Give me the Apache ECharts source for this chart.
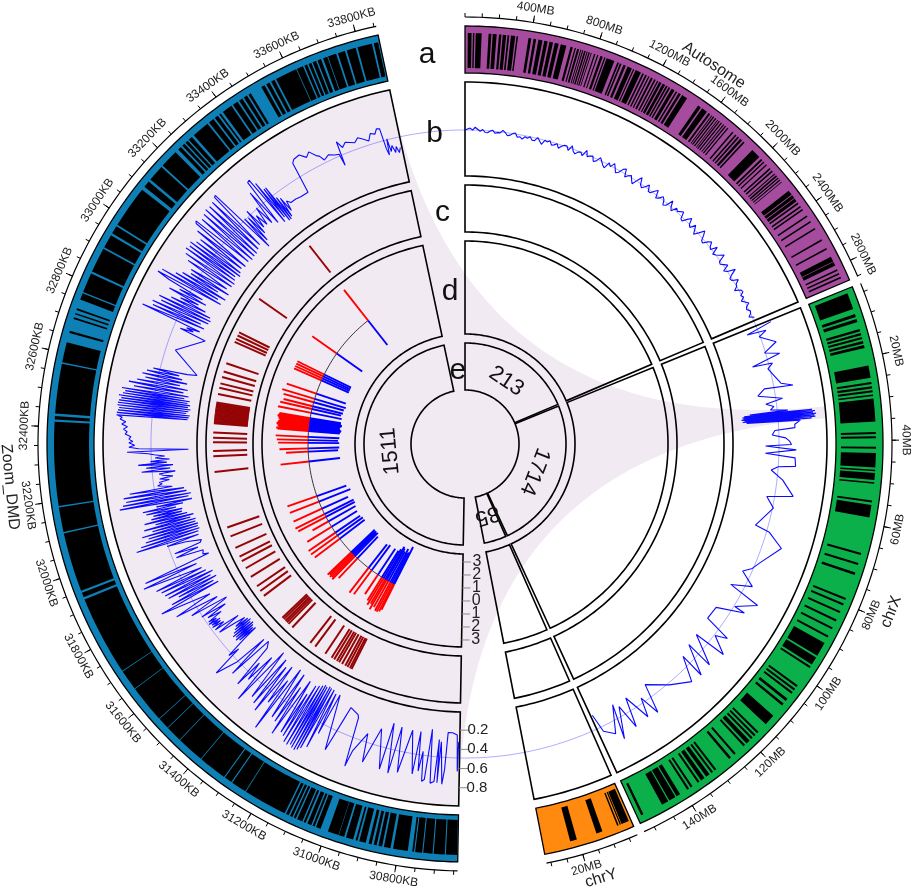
<!DOCTYPE html>
<html>
<head>
<meta charset="utf-8">
<style>html,body{margin:0;background:#fff}#main{width:913px;height:890px}</style>
<script src="https://cdn.jsdelivr.net/npm/echarts@6/dist/echarts.min.js"></script>
</head>
<body>
<div id="main"></div>
<script>
// black bands of the outer track, [start, end]
var autosomeBands = [[17,40],[48,57],[65,101],[143,160],[168,192],[206,221],[229,250],[258,269],[279,305],[313,322],
  [386,403],[417,433],[447,472],[483,504],[515,537],[548,572],[585,620],[646,660],[672,680],[688,700],[708,714],[720,726],
  [732,742],[748,754],[760,768],[775,780],[795,803],[815,822],[835,850],[860,868],[875,925],[945,955],[962,972],[985,1000],
  [1012,1040],[1048,1056],[1065,1100],[1110,1120],[1130,1140],[1150,1158],[1168,1180],[1190,1200],[1210,1218],[1225,1240],
  [1248,1265],[1272,1282],[1290,1300],[1310,1330],[1340,1350],[1360,1375],[1385,1420],[1500,1520],[1530,1565],[1578,1590],
  [1600,1606],[1612,1620],[1628,1636],[1645,1650],[1656,1664],[1672,1680],[1690,1696],[1704,1712],[1722,1730],[1760,1770],
  [1785,1795],[1805,1815],[1825,1840],[1850,1860],[1925,1985],[2000,2012],[2022,2030],[2045,2052],[2075,2085],[2095,2105],
  [2120,2127],[2135,2145],[2152,2160],[2168,2175],[2185,2190],[2255,2285],[2290,2310],[2315,2335],[2345,2355],[2370,2380],
  [2392,2402],[2440,2450],[2480,2490],[2530,2540],[2610,2620],[2670,2680],[2730,2762],[2766,2790],[2815,2825],[2840,2850],[2865,2875]];
var chrXBands = [[4,8],[9.3,10],[10.5,11.3],[13,13.6],[14,14.6],[15,15.5],[16,16.6],[17,17.7],[22,25],[26,26.5],[27,27.6],[28,28.5],[29,29.4],
  [30,35.5],[38,38.5],[39,39.5],[41.5,42],[43,46.5],[47,47.4],[47.8,49.5],[50,50.4],[54.4,54.9],[55.5,58.5],[67.2,67.7],[69.7,70.2],[72.1,72.7],
  [78.6,79.1],[80,80.5],[82,82.5],[84.2,84.7],[86.3,86.8],[88.5,89],[90.5,94],[94.5,96.5],[97,97.5],[102.5,103],[103.5,104],[104.5,105],
  [106.5,107.2],[108,108.6],[111.8,114.5],[117,117.5],[118,118.5],[119,119.5],[120,121],[121.5,122],[124.5,125],[126,126.6],[130.5,131],
  [131.5,132],[132.5,133.5],[134,135],[135.5,136],[137.5,138],[138.5,139],[141,142],[142.3,144],[144.3,146],[151,151.6]];
var chrYBands = [[3,5.5],[5.7,6.1],[6.5,7],[12,14],[20.5,22.7]];
var zoomBands = [[30642,30672],[30675,30705],[30708,30733],[30736,30755],[30758,30763],[30775,30815],[30822,30840],[30845,30855],[30860,30868],
  [30874,30882],[30890,30908],[30913,30918],[30925,30945],[30950,30965],[30966,30996],[31017,31030],[31034,31040],[31044,31055],[31060,31066],
  [31070,31085],[31089,31095],[31099,31106],[31110,31118],[31122,31241],[31243,31285],[31288,31309],[31312,31389],[31391,31466],[31468,31512],
  [31514,31545],[31547,31649],[31651,31707],[31709,31926],[31932,31945],[31951,32112],[32116,32183],[32187,32414],[32420,32429],[32436,32571],
  [32575,32630],[32656,32662],[32695,32700],[32708,32712],[32720,32725],[32750,32768],[32772,32826],[32832,32900],[32905,32942],[32948,32970],
  [32975,33090],[33100,33118],[33125,33170],[33175,33225],[33235,33245],[33250,33258],[33262,33270],[33274,33285],[33292,33340],[33345,33360],
  [33365,33375],[33380,33385],[33392,33420],[33425,33440],[33445,33455],[33460,33470],[33475,33482],[33515,33525],[33530,33540],[33545,33555],
  [33560,33620],[33622,33640],[33644,33652],[33656,33664],[33668,33678],[33682,33692],[33698,33710],[33712,33735],[33740,33760],[33765,33790],
  [33795,33835],[33840,33852]];

// track b, autosome: one value every 20 MB
var autosomeLine = [.49,.50,.51,.49,.52,.50,.48,.50,.47,.47,.49,.50,.47,.48,.48,.51,.49,.46,.47,.49,.50,.46,.47,.45,.48,.47,.49,.46,.46,.50,
  .47,.44,.49,.48,.50,.46,.47,.49,.45,.48,.50,.50,.46,.52,.47,.45,.48,.49,.46,.53,.47,.49,.50,.45,.47,.52,.49,.46,.44,.51,
  .48,.53,.49,.45,.47,.52,.54,.46,.49,.51,.47,.44,.50,.55,.48,.46,.49,.53,.47,.47,.51,.54,.46,.48,.52,.50,.45,.47,.55,.49,
  .46,.52,.50,.50,.54,.47,.46,.51,.55,.49,.47,.53,.49,.45,.50,.56,.52,.47,.46,.51,.54,.50,.48,.55,.47,.49,.52,.56,.48,.47,
  .50,.53,.46,.49,.57,.51,.47,.48,.54,.50,.49,.45,.51,.52,.48,.50,.46,.49,.52,.48,.47,.50,.49,.46,.51];
// track b, chrX: [MB, value]
var chrXLine = [[3.5,.65],[4.7,.37],[5.4,.57],[6.6,.48],[9.7,.63],[11.9,.48],[13.3,.63],[15.2,.32],[15.6,.53],[17,.47],[22.2,.57],[23.4,.69],[23,.39],[25,.31],[26.8,.56],
  [28,.38],[29,.46],[30,.42],[30.6,.6],[30.9,.2],[31.1,.85],[31.3,.14],[31.5,.88],[31.7,.12],[31.9,.86],[32.1,.13],[32.3,.89],[32.5,.11],[32.7,.87],[32.9,.14],[33.1,.88],[33.3,.12],[33.5,.84],[33.7,.16],[33.9,.72],
  [35,.66],[36,.66],[36.6,.45],[38,.42],[39,.56],[40,.6],[41,.62],[41.5,.35],[42.6,.67],[43.9,.35],[45,.66],[47.5,.67],[48,.49],[49.2,.42],[52,.55],[56.4,.68],[57.8,.41],[61,.5],[67.6,.36],[68.6,.52],[72.2,.69],
  [78.5,.53],[81,.48],[83,.4],[86.1,.56],[88.6,.35],[90.4,.7],[94.1,.5],[94.3,.62],[97.5,.34],[102,.33],[103.5,.62],[105,.5],[108,.69],[108.5,.34],[113,.65],[112.6,.35],[116.9,.66],[116.7,.39],[120.3,.64],
  [126,.51],[132,.35],[133.9,.66],[135.6,.44],[137.1,.64],[139.7,.35],[141.6,.66],[143,.39],[146.4,.71],[144.5,.34],[148,.62],[151,.54],[152,.34]];
// track b, zoomed region: [KB, value]
var zoomLine = [[30644,.32],[30647,.63],[30650,.25],[30668,.23],[30685,.23],[30690,.62],[30696,.77],[30708,.33],[30712,.76],[30716,.31],[30722,.75],[30734,.77],[30746,.21],[30754,.74],[30762,.76],[30770,.45],[30778,.66],[30788,.25],[30796,.70],[30820,.25],[30845,.71],[30862,.24],[30875,.74],[30895,.22],[30905,.72],[30935,.31],[30965,.70],[30978,.40],[31008,.62],[31015,.80],[31030,.28],[31036,.25],[31071,.21],[31078,.35],
  [31094,.72],[31130,.14],[31138,.60],[31146,.15],[31152,.78],[31160,.12],[31168,.82],[31172,.12],[31176,.85],[31180,.11],[31184,.87],[31190,.13],[31194,.86],[31198,.12],[31202,.84],[31207,.14],[31212,.86],[31218,.16],[31224,.85],[31230,.18],[31236,.80],[31242,.30],[31248,.78],[31258,.17],[31270,.84],[31276,.28],[31284,.72],[31292,.15],[31300,.70],[31315,.13],[31323,.89],[31330,.30],[31340,.60],[31348,.16],[31358,.75],[31366,.20],[31376,.70],[31384,.14],[31394,.66],[31410,.10],[31423,.77],[31432,.22],[31442,.55],[31452,.35],[31458,.66],[31470,.18],[31485,.12],[31495,.62],[31503,.14],[31512,.50],[31533,.74],[31542,.40],[31548,.52],
  [31556,.28],[31560,.12],[31564,.33],[31568,.14],[31572,.36],[31576,.12],[31580,.34],[31584,.10],[31588,.36],[31592,.12],[31596,.33],[31600,.10],[31604,.30],[31608,.12],[31612,.27],[31618,.14],[31624,.24],[31632,.44],
  [31640,.18],[31648,.46],[31654,.34],[31660,.47],[31664,.36],[31668,.46],[31672,.35],[31676,.48],[31680,.38],[31684,.47],[31690,.30],[31698,.45],[31705,.22],[31712,.50],[31722,.20],[31725,.17],[31735,.58],[31745,.25],[31758,.72],[31768,.30],[31790,.84],[31794,.16],[31800,.70],[31806,.20],[31812,.60],[31818,.15],[31824,.70],[31830,.20],[31836,.72],[31842,.16],[31850,.74],[31856,.22],[31862,.78],[31870,.25],[31885,.89],[31892,.28],[31900,.85],[31910,.12],[31916,.18],[31930,.16],
  [31940,.45],[31948,.20],[31955,.45],[31962,.16],[31970,.14],[31975,.13],[31982,.30],[31988,.50],[31994,.15],[32002,.82],[32007,.14],[32012,.76],[32017,.12],[32022,.70],[32027,.13],[32032,.66],[32037,.12],[32042,.72],[32047,.14],[32052,.60],[32057,.13],[32062,.68],[32067,.18],[32072,.55],[32077,.14],[32082,.66],[32087,.20],[32092,.58],[32097,.25],[32102,.55],[32107,.24],[32112,.62],[32117,.30],[32122,.65],[32127,.22],[32132,.50],[32137,.12],[32145,.88],[32150,.15],[32155,.84],[32160,.12],[32165,.80],[32172,.16],[32178,.82],[32184,.18],[32190,.75],[32196,.30],[32204,.45],[32210,.40],[32216,.43],[32222,.32],[32228,.42],[32234,.28],[32240,.38],[32246,.42],[32252,.25],[32258,.60],[32264,.30],[32270,.55],[32276,.27],[32282,.63],[32287,.33],[32292,.50],[32298,.30],[32304,.45],[32310,.35],[32316,.46],[32320,.52],[32327,.74],[32333,.10],[32338,.62],[32343,.72],[32350,.66],[32358,.72],[32362,.68],[32370,.72],[32378,.70],[32386,.76],[32394,.74],[32402,.78],[32410,.74],[32418,.80],[32426,.76],[32434,.82],[32440,.80],
  [32446,.86],[32450,.12],[32454,.86],[32458,.11],[32462,.85],[32466,.10],[32470,.84],[32474,.14],[32478,.86],[32482,.12],[32486,.86],[32490,.10],[32494,.85],[32498,.13],[32502,.83],[32506,.11],[32510,.86],[32514,.14],[32518,.82],[32522,.12],[32526,.80],[32530,.18],[32534,.84],[32540,.14],[32546,.72],[32552,.20],[32558,.78],[32564,.16],[32570,.70],[32576,.25],[32582,.62],[32588,.18],[32594,.66],[32600,.24],[32606,.62],[32612,.28],[32618,.56],[32624,.20],[32630,.10],[32700,.39],[32770,.13],
  [32780,.42],[32785,.28],[32790,.36],[32795,.22],[32806,.88],[32812,.19],[32818,.78],[32824,.24],[32830,.80],[32836,.17],[32842,.72],[32848,.16],[32854,.76],[32860,.18],[32866,.64],[32872,.25],[32878,.55],[32884,.35],[32890,.70],[32896,.28],[32902,.60],[32908,.34],[32914,.75],[32920,.89],[32926,.15],[32932,.86],[32938,.20],[32944,.72],[32950,.13],[32956,.66],[32962,.24],[32968,.58],[32974,.13],[32980,.60],[32990,.18],[33000,.68],[33008,.15],[33015,.74],[33022,.14],[33030,.77],[33036,.16],[33042,.75],[33048,.18],[33054,.77],[33060,.14],[33066,.72],[33072,.16],[33080,.70],[33088,.18],[33096,.78],[33104,.16],[33112,.84],[33118,.86],[33126,.17],[33134,.82],[33142,.15],[33150,.84],[33158,.16],[33165,.86],[33172,.16],[33180,.85],[33188,.18],[33196,.86],[33204,.20],[33212,.88],[33218,.89],[33226,.12],[33232,.50],[33238,.18],[33244,.48],[33250,.25],[33256,.54],[33262,.30],[33270,.44],[33278,.30],[33288,.50],[33296,.28],[33306,.66],[33314,.24],[33322,.76],[33330,.77],[33336,.20],[33340,.70],[33346,.24],[33350,.60],[33354,.18],[33357,.60],[33362,.18],[33366,.45],[33370,.20],[33376,.42],[33382,.25],[33388,.36],[33398,.32],[33420,.32],[33440,.31],[33472,.31],[33480,.65],[33490,.68],[33512,.69],[33530,.63],[33545,.67],[33561,.60],[33570,.58],[33580,.52],[33600,.55],[33620,.52],[33635,.51],[33639,.38],[33643,.64],[33655,.56],[33670,.60],[33685,.58],[33700,.56],[33715,.60],[33730,.57],[33748,.53],[33760,.60],[33775,.58],[33785,.63],[33795,.62],[33800,.40],[33805,.33],[33810,.50],[33815,.36],[33822,.42],[33830,.34],[33836,.40],[33843,.33],[33850,.38]];

// tracks c and d share the exon positions (KB)
var exonPos = [31136,31144,31156,31167,31183,31198,31209,31223,31236,31269,31323,31350,31454,31477,31487,31496,31506,31515,31640,31667,31692,31741,31785,31821,31843,31885,31940,31981,
  32231,32300,32323,32362,32381,32404,32445,32450,32456,32462,32468,32474,32479,32485,32491,32497,32502,32508,32514,32520,32526,32531,32537,32574,32602,32622,32651,32676,32714,32814,32829,32845,32860,33032,33353];
var redVal = [2.2,2.4,2.5,2.5,2.3,2.6,2.2,2.4,2.1,1.8,2.3,2.4,2.1,2.5,2.4,2.5,2.4,2.5,2.4,2.5,2.5,2.2,1.4,2.4,2.5,2.4,2.4,2.4,
  2.2,1.7,2.2,2.3,2.4,2.5,2.4,2.5,2.3,2.4,2.4,2.5,2.5,2.4,2.4,2.3,2.3,2.4,2.4,2.5,2.5,2.4,2.4,2.6,2.5,2.3,2.4,2.6,2.4,2.3,2.3,2.3,2.3,2.3,3.0];
var blueVal = [-3.2,-2.7,-2.6,-2.9,-2.6,-2.8,-2.9,-2.6,-2.4,-2.4,-2.4,-2.3,-2.3,-2.5,-2.4,-2.5,-2.4,-2.5,-2.4,-2.4,-2.3,-2.3,-2.4,-2.5,-2.5,-2.2,-2.6,-2.4,
  -2.4,-2.3,-2.4,-2.4,-2.3,-2.4,-2.4,-2.4,-2.4,-2.5,-2.5,-2.4,-2.4,-2.3,-2.3,-2.4,-2.4,-2.5,-2.5,-2.4,-2.4,-2.3,-2.4,-2.4,-2.3,-2.4,-2.4,-2.5,-2.4,-2.3,-2.3,-2.3,-2.3,-2.4,-2.4];

var autosomeTicks = [400,800,1200,1600,2000,2400,2800];
var chrXTicks = [20,40,60,80,100,120,140];
var chrYTicks = [20];
var zoomTicks = [30800,31000,31200,31400,31600,31800,32000,32200,32400,32600,32800,33000,33200,33400,33600,33800];
var countLabels = ['213','1714','85','1511'];
var bTicks = [0.2,0.4,0.6,0.8];
var dTicks = [-3,-2,-1,0,1,2,3];
var panelLetters = ['a','b','c','d','e'];

var FONT = '"Liberation Sans", Arial, sans-serif';
var secAuto = {a0:0, a1:66.9, min:0, max:2904, color:'#a54c9f', step:100, unit:'MB'};
var secX = {a0:67.9, a1:155.2, min:3, max:152.6, color:'#0bb04b', step:5, unit:'MB'};
var secY = {a0:156.2, a1:169, min:2.3, max:31.4, color:'#ff8a0f', step:5, unit:'MB'};
var secZoom = {a0:181, a1:348, min:30640, max:33856, color:'#0e80b6', step:50, unit:'KB'};
var sectors = [secAuto, secX, secY, secZoom];
var tracks = [[268,362],[212,259],[110,203],[54,101]];

function ang(sec, v){ return sec.a0 + (v - sec.min) / (sec.max - sec.min) * (sec.a1 - sec.a0); }
function rB(v){ return 267 + 96 * v; }
function rD(v){ return 157 + 13 * v; }

function arc(api, r, a0, a1){
  var pts = [], n = Math.max(2, Math.ceil(Math.abs(a1 - a0)));
  for (var i = 0; i <= n; i++) pts.push(api.coord([r, a0 + (a1 - a0) * i / n]));
  return pts;
}
function panel(api, r0, r1, a0, a1){ return arc(api, r1, a0, a1).concat(arc(api, r0, a1, a0)); }
function layer(z, build){
  return {type:'custom', coordinateSystem:'polar', silent:true, z:z, clip:false, data:[[0,0]],
    renderItem:function(p, api){ return {type:'group', children:build(api)}; }};
}
function label(p, text, size, rotDeg, color){
  return {type:'text', x:p[0], y:p[1], rotation:-rotDeg * Math.PI / 180, silent:true,
    style:{text:text, fill:color || '#222', font:size + 'px ' + FONT, textAlign:'center', textVerticalAlign:'middle'}};
}
function flip(a){ return (a > 90 && a < 270) ? a - 180 : a; }
function lineData(sec, rows){ return rows.map(function(d){ return [rB(d[1]), ang(sec, d[0])]; }); }
function pts2(p, q){ return {x1:p[0], y1:p[1], x2:q[0], y2:q[1]}; }

// ribbon from the zoomed sector down to its place on chrX
function ribbon(api){
  var c = api.coord([0, 0]), R = 362;
  var topA = ang(secX, 30.64), botA = ang(secX, 33.86);
  function quad(p0, p2){
    var out = [];
    for (var t = 0; t <= 1.0001; t += 0.02) {
      out.push([(1-t)*(1-t)*p0[0] + 2*t*(1-t)*c[0] + t*t*p2[0], (1-t)*(1-t)*p0[1] + 2*t*(1-t)*c[1] + t*t*p2[1]]);
    }
    return out;
  }
  var pts = arc(api, R, secZoom.a0, secZoom.a1)
    .concat(quad(api.coord([R, secZoom.a1]), api.coord([R, topA])))
    .concat(arc(api, R, topA, botA))
    .concat(quad(api.coord([R, botA]), api.coord([R, secZoom.a0])));
  return [{type:'polygon', shape:{points:pts}, style:{fill:'#f2eaf2', stroke:null}}];
}

function frames(api){
  var out = [];
  sectors.forEach(function(s){
    out.push({type:'polygon', shape:{points:panel(api, 371, 418, s.a0, s.a1)}, style:{fill:s.color, stroke:'#000', lineWidth:1.3}});
    tracks.forEach(function(t){
      out.push({type:'polygon', shape:{points:panel(api, t[0], t[1], s.a0, s.a1)}, style:{fill:null, stroke:'#000', lineWidth:1.6}});
    });
  });
  return out;
}
function bands(api){
  var out = [];
  [[secAuto, autosomeBands],[secX, chrXBands],[secY, chrYBands],[secZoom, zoomBands]].forEach(function(g){
    g[1].forEach(function(b){
      out.push({type:'polygon', shape:{points:panel(api, 376, 411, ang(g[0], b[0]), ang(g[0], b[1]))}, style:{fill:'#000', stroke:null}});
    });
  });
  return out;
}
function exons(api){
  var out = [];
  exonPos.forEach(function(k, i){
    var a = ang(secZoom, k);
    out.push({type:'line', shape:pts2(api.coord([218, a]), api.coord([252, a])), style:{stroke:'#950505', lineWidth:2}});
    out.push({type:'line', shape:pts2(api.coord([rD(0), a]), api.coord([rD(redVal[i]), a])), style:{stroke:'#ff0000', lineWidth:1.9}});
    out.push({type:'line', shape:pts2(api.coord([rD(0), a]), api.coord([rD(blueVal[i]), a])), style:{stroke:'#0000ff', lineWidth:1.9}});
  });
  return out;
}

function axes(api){
  var out = [], R = 427;
  sectors.forEach(function(s){
    out.push({type:'polyline', shape:{points:arc(api, R, s.a0, s.a1)}, style:{stroke:'#000', fill:null, lineWidth:1.2}});
    var first = Math.ceil(s.min / s.step) * s.step;
    for (var v = first; v <= s.max; v += s.step) {
      var a = ang(s, v);
      out.push({type:'line', shape:pts2(api.coord([R, a]), api.coord([R + 4, a])), style:{stroke:'#000', lineWidth:1}});
    }
  });
  [[secAuto, autosomeTicks],[secX, chrXTicks],[secY, chrYTicks],[secZoom, zoomTicks]].forEach(function(g){
    g[1].forEach(function(v){
      var a = ang(g[0], v);
      out.push({type:'line', shape:pts2(api.coord([R, a]), api.coord([R + 7, a])), style:{stroke:'#000', lineWidth:1}});
      out.push(label(api.coord([441, a]), v + g[0].unit, 12, flip(a)));
    });
  });
  out.push(label(api.coord([453, 33.3]), 'Autosome', 16, 33.3));
  out.push(label(api.coord([458, 111.5]), 'chrX', 16, flip(111.5)));
  out.push(label(api.coord([455, 162.6]), 'chrY', 16, flip(162.6)));
  out.push(label(api.coord([457, 264.6]), 'Zoom_DMD', 16, flip(264.6)));
  return out;
}
function scales(api){
  var out = [];
  bTicks.forEach(function(v){
    var p = api.coord([rB(v), secZoom.a0]);
    out.push({type:'line', shape:{x1:p[0], y1:p[1], x2:p[0] + 9, y2:p[1]}, style:{stroke:'#888', lineWidth:1}});
    out.push(label([p[0] + 18, p[1]], String(v), 15, 0));
  });
  dTicks.forEach(function(v){
    var p = api.coord([rD(v), secZoom.a0]);
    out.push({type:'line', shape:{x1:p[0], y1:p[1], x2:p[0] + 8, y2:p[1]}, style:{stroke:'#888', lineWidth:1}});
    out.push(label([p[0] + 14, p[1]], String(Math.abs(v)), 16, 0));
  });
  return out;
}
function texts(api){
  var out = [];
  sectors.forEach(function(s, i){
    var mid = (s.a0 + s.a1) / 2;
    out.push(label(api.coord([75, mid]), countLabels[i], 22, mid, '#111'));
  });
  // panel letters sit in the top gap, level with each track
  var c = api.coord([0, 0]);
  panelLetters.forEach(function(t, i){
    out.push(label([c[0] - 38 + i * 7.7, c[1] - 389 + i * 79], t, 30, 0, '#111'));
  });
  return out;
}

var series = [
  layer(1, ribbon),
  layer(2, function(api){
    return [{type:'polyline', shape:{points:arc(api, rB(0.49), 0, 360)}, style:{stroke:'rgba(40,40,255,0.55)', fill:null, lineWidth:0.7}},
      {type:'polyline', shape:{points:arc(api, rD(0), ang(secZoom, exonPos[0]), ang(secZoom, exonPos[exonPos.length - 1]))}, style:{stroke:'#222', fill:null, lineWidth:0.9}}];
  }),
  layer(3, frames),
  layer(4, bands),
  layer(5, exons),
  layer(6, axes),
  layer(7, scales),
  layer(8, texts)
];
[[secAuto, autosomeLine.map(function(v, i){ return [i * 20, v]; })], [secX, chrXLine], [secZoom, zoomLine]].forEach(function(g){
  series.push({type:'line', coordinateSystem:'polar', z:6, silent:true, showSymbol:false, animation:false, smooth:false,
    lineStyle:{color:'#0a0aff', width:1.1}, data:lineData(g[0], g[1])});
});

var chart = echarts.init(document.getElementById('main'));
chart.setOption({
  animation:false,
  backgroundColor:'#fff',
  polar:{center:[465,444], radius:427},
  angleAxis:{type:'value', min:0, max:360, startAngle:90, clockwise:true, show:false},
  radiusAxis:{type:'value', min:0, max:427, show:false},
  series:series
});
</script>
</body>
</html>
